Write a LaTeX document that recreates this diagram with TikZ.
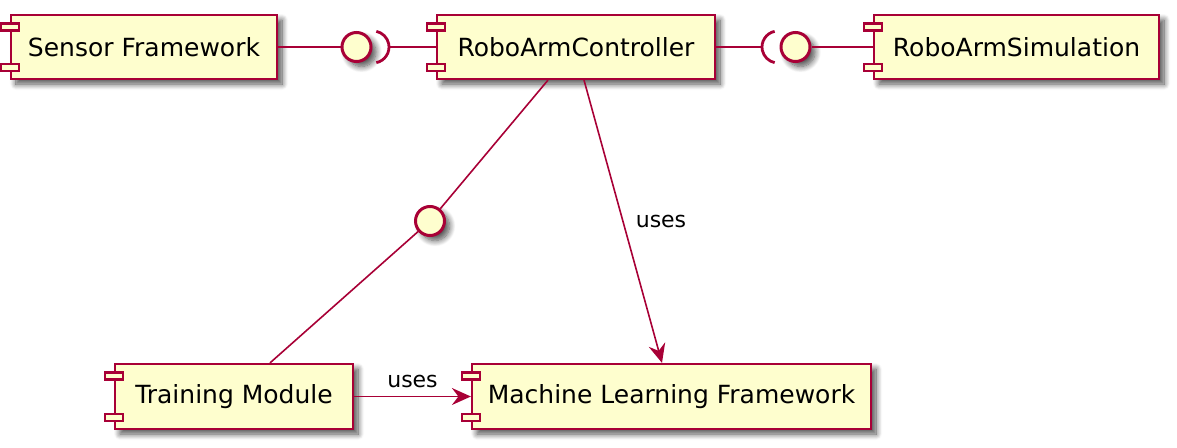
\documentclass[tikz,border=0pt]{standalone}
\usepackage{fontspec}
\setmainfont{DejaVu Sans}
\usetikzlibrary{shadows.blur,arrows.meta}
\definecolor{umlfill}{HTML}{FEFECE}
\definecolor{umlline}{HTML}{A80036}
\tikzset{
  umlshadow/.style={blur shadow={shadow xshift=5pt, shadow yshift=-5pt, shadow blur radius=6pt, shadow blur steps=10, shadow opacity=70}},
  comp/.style={draw=umlline, fill=umlfill, line width=2.2pt, minimum height=64pt, inner sep=0pt,
    font=\fontsize{25}{29}\selectfont, umlshadow},
  tab/.style={draw=umlline, fill=umlfill, line width=2.2pt},
  iface/.style={circle, draw=umlline, fill=umlfill, line width=3pt, minimum size=29pt, inner sep=0pt, umlshadow},
  sock/.style={draw=umlline, line width=2.8pt},
  link/.style={draw=umlline, line width=1.6pt},
  uses/.style={link, -{Stealth[length=19pt, width=17pt, inset=6.5pt]}},
  lbl/.style={font=\fontsize{22}{26}\selectfont, inner sep=0pt},
}
\newcommand\umlcomp[6]{% name, cx, cy, width, height, text
  \node[comp, minimum width=#4pt, minimum height=#5pt] (#1) at (#2,#3) {#6};
  \draw[tab] ([xshift=-9pt, yshift=-9.5pt]#1.north west) rectangle ++(18pt,-7pt);
  \draw[tab] ([xshift=-9pt, yshift=9.5pt]#1.south west) rectangle ++(18pt,7pt);
}
\begin{document}
\begin{tikzpicture}[x=1pt, y=-1pt]
  \useasboundingbox (0,0) rectangle (1177,447);

  % components
  \umlcomp{sensor}{144}{47}{266}{64}{Sensor Framework}
  \umlcomp{ctrl}{576}{47}{278}{64}{RoboArmController}
  \umlcomp{sim}{1016.5}{47}{285}{64}{RoboArmSimulation}
  \umlcomp{train}{234}{396.5}{238}{65}{Training Module}
  \umlcomp{ml}{671.5}{396.5}{399}{65}{Machine Learning Framework}

  % interfaces
  \node[iface] (i1) at (356.5,47) {};
  \node[iface] (i2) at (795.5,47) {};
  \node[iface] (i3) at (430,221) {};

  % sockets
  \coordinate (s1) at (373,47);
  \coordinate (s2) at (778,47);
  \draw[sock] (s1) ++(-78:16pt) arc[start angle=-78, end angle=78, radius=16pt];
  \draw[sock] (s2) ++(102:16pt) arc[start angle=102, end angle=258, radius=16pt];

  % connectors
  \draw[link] (sensor.east) -- (i1);
  \draw[link] ([xshift=16pt]s1) -- (ctrl.west);
  \draw[link] (ctrl.east) -- ([xshift=-16pt]s2);
  \draw[link] (i2) -- (sim.west);
  \draw[link] ([xshift=-28pt]ctrl.south) -- (i3);
  \draw[link] (i3) -- ([xshift=36pt]train.north);
  \draw[uses] ([xshift=8pt]ctrl.south) -- ([xshift=-9.5pt]ml.north)
    node[lbl, pos=0.5, right=12pt] (l1) {uses};
  \draw[uses] (train.east) -- (ml.west)
    node[lbl, pos=0.5, above=8pt] (l2) {uses};
\end{tikzpicture}
\end{document}
